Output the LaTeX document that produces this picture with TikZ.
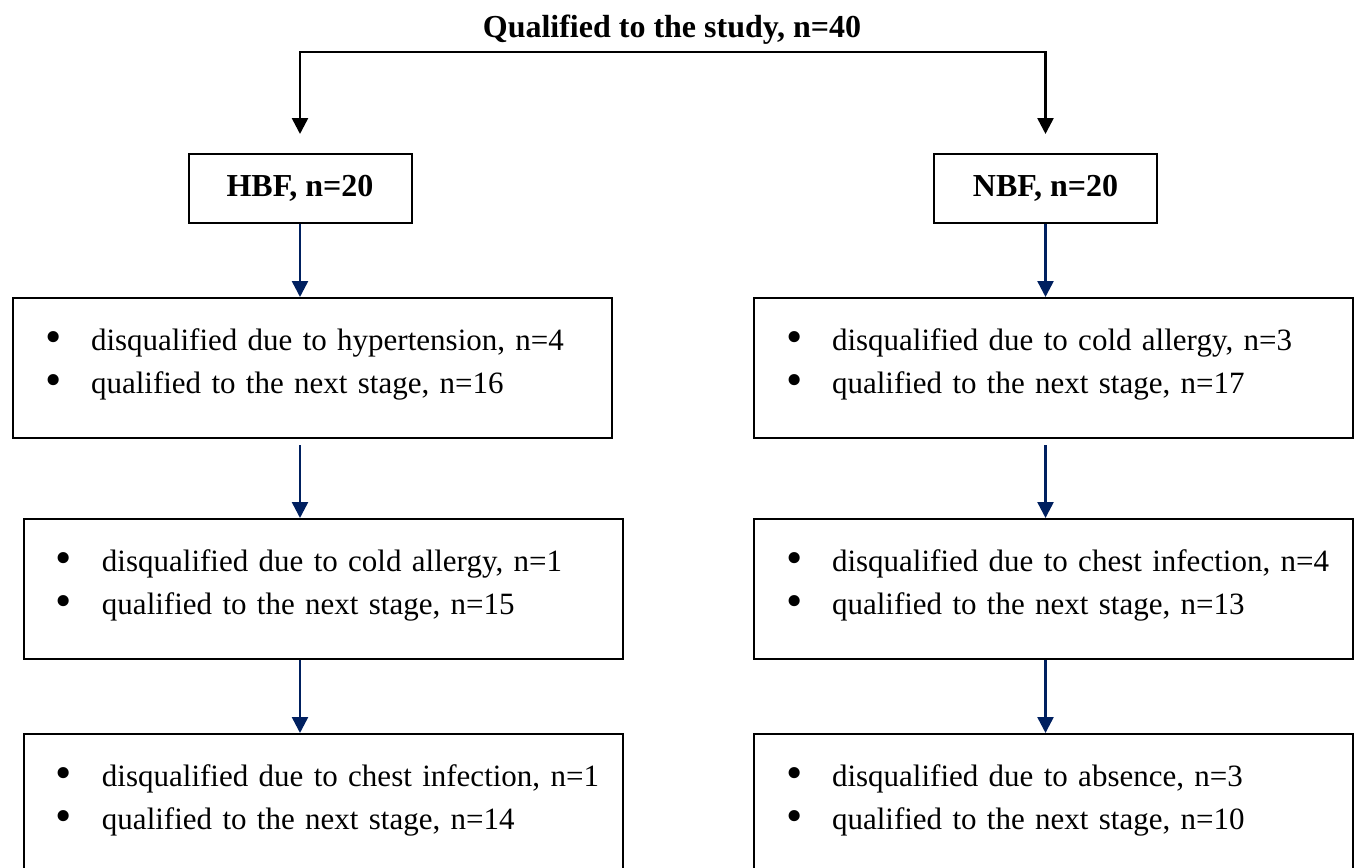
\documentclass[tikz,border=0pt]{standalone}
\usepackage{fontspec}
\setmainfont{Liberation Serif}
\usetikzlibrary{positioning, arrows.meta}

\definecolor{stagenavy}{RGB}{0,32,96}
\newcommand{\flowsize}{\fontsize{16}{21.5}\selectfont}
\newcommand{\stagesize}{\fontsize{15.5}{21.5}\selectfont}
\newcommand{\stagebullet}{\raisebox{-1.2pt}{\scalebox{1.5}{\textbullet}}}
\newcommand{\stagelines}[2]{\noindent\begin{tabular}{@{\hspace{16pt}}p{23pt}@{}l@{}}\stagebullet & #1\\ \stagebullet & #2\\[5pt]\end{tabular}}

\begin{document}
\begin{tikzpicture}[
		x=0.5pt, y=-0.5pt,
		heading/.style={font=\flowsize\bfseries, inner sep=0pt},
		groupbox/.style={rectangle, draw, line width=1pt, font=\flowsize\bfseries, minimum width=111.5pt, minimum height=34.5pt, inner sep=0pt},
		stagebox/.style={rectangle, draw, line width=1pt, anchor=north west, align=left, text width=299.5pt, inner xsep=0pt, inner ysep=0pt, minimum height=70pt, font=\stagesize},
		forkarrow/.style={-{Triangle[width=8pt, length=8pt]}, line width=1.3pt},
		stagearrow/.style={-{Triangle[width=8pt, length=8pt]}, line width=1.25pt, draw=stagenavy}
	]
	\useasboundingbox (0,0) rectangle (1354,867);
	\clip (0,0) rectangle (1354,867);

	\node[heading] (title) at (672,30) {Qualified to the study, n=40};
	\coordinate (fork) at (672,52);
	\node[groupbox] (hbf) at (300,188.5) {HBF, n=20};
	\node[groupbox] (nbf) at (1045.5,188.5) {NBF, n=20};

	\node[stagebox] (hbfone) at (12,297) {\stagelines{disqualified due to hypertension, n=4}{qualified to the next stage, n=16}};
	\node[stagebox] (hbftwo) at (23,518) {\stagelines{disqualified due to cold allergy, n=1}{qualified to the next stage, n=15}};
	\node[stagebox] (hbfthree) at (23,733) {\stagelines{disqualified due to chest infection, n=1}{qualified to the next stage, n=14}};
	\node[stagebox] (nbfone) at (753,297) {\stagelines{disqualified due to cold allergy, n=3}{qualified to the next stage, n=17}};
	\node[stagebox] (nbftwo) at (753,518) {\stagelines{disqualified due to chest infection, n=4}{qualified to the next stage, n=13}};
	\node[stagebox] (nbfthree) at (753,733) {\stagelines{disqualified due to absence, n=3}{qualified to the next stage, n=10}};

	\foreach \i in {hbf, nbf}
		\draw[forkarrow, shorten >=9.5pt] (fork) -| (\i.north);

	\foreach \i/\j in {hbf/hbfone, nbf/nbfone}
		\draw[stagearrow] (\i.south) -- (\i.south |- \j.north);

	\foreach \i/\j/\k in {hbfone/hbftwo/hbf, nbfone/nbftwo/nbf}
		\draw[stagearrow, shorten <=3pt] (\i.south -| \k) -- (\j.north -| \k);

	\foreach \i/\j/\k in {hbftwo/hbfthree/hbf, nbftwo/nbfthree/nbf}
		\draw[stagearrow] (\i.south -| \k) -- (\j.north -| \k);

\end{tikzpicture}
\end{document}
